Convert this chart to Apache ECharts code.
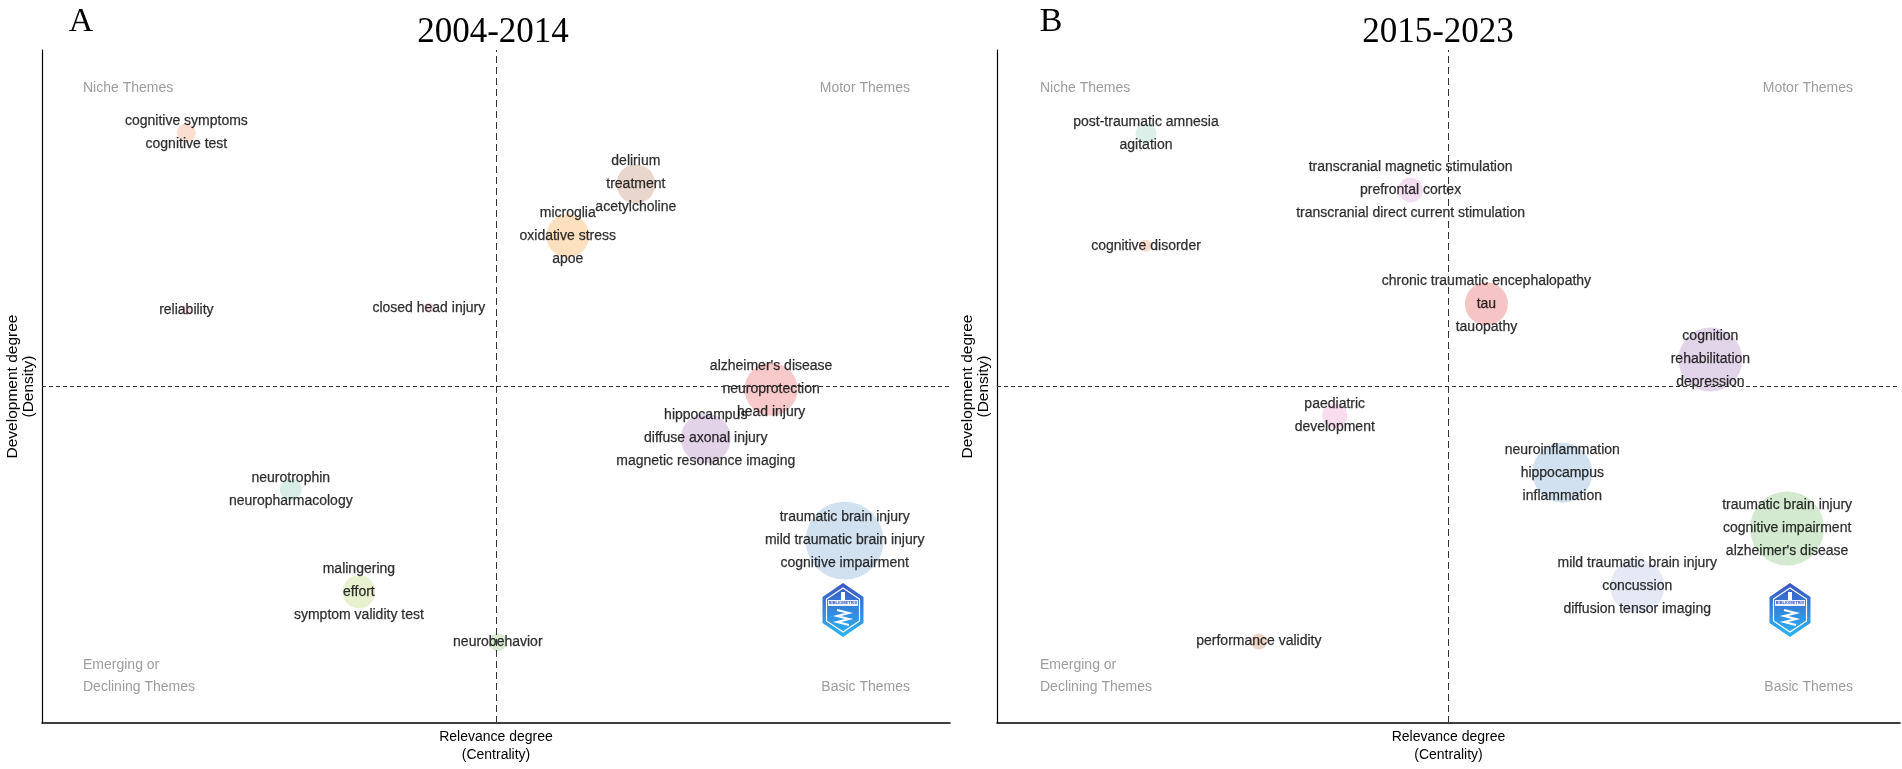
<!DOCTYPE html>
<html><head><meta charset="utf-8">
<script src="https://cdn.jsdelivr.net/npm/echarts@6/dist/echarts.min.js"></script>
<style>html,body{margin:0;padding:0;background:#fff}#c{width:1902px;height:769px}</style>
</head><body><div id="c"></div>
<script>
// ---------- Panel A : 2004-2014 ----------
const labelsA = [
  ["cognitive symptoms", "cognitive test"],
  ["reliability"],
  ["closed head injury"],
  ["delirium", "treatment", "acetylcholine"],
  ["microglia", "oxidative stress", "apoe"],
  ["alzheimer's disease", "neuroprotection", "head injury"],
  ["hippocampus", "diffuse axonal injury", "magnetic resonance imaging"],
  ["neurotrophin", "neuropharmacology"],
  ["traumatic brain injury", "mild traumatic brain injury", "cognitive impairment"],
  ["malingering", "effort", "symptom validity test"],
  ["neurobehavior"]
];
const centralityA = [15.9, 15.9, 42.6, 65.4, 57.9, 80.3, 73.1, 27.4, 88.4, 34.9, 50.2];
const densityA    = [87.7, 61.4, 61.7, 80.1, 72.4, 49.6, 42.3, 34.7, 27.1, 19.5, 12.0];
const freqA       = [45, 13, 13, 190, 231, 351, 312, 60, 760, 136, 40];

// ---------- Panel B : 2015-2023 ----------
const labelsB = [
  ["post-traumatic amnesia", "agitation"],
  ["transcranial magnetic stimulation", "prefrontal cortex", "transcranial direct current stimulation"],
  ["cognitive disorder"],
  ["chronic traumatic encephalopathy", "tau", "tauopathy"],
  ["cognition", "rehabilitation", "depression"],
  ["paediatric", "development"],
  ["neuroinflammation", "hippocampus", "inflammation"],
  ["traumatic brain injury", "cognitive impairment", "alzheimer's disease"],
  ["mild traumatic brain injury", "concussion", "diffusion tensor imaging"],
  ["performance validity"]
];
const centralityB = [16.5, 45.8, 16.5, 54.2, 79.0, 37.4, 62.6, 87.5, 70.9, 29.0];
const densityB    = [87.6, 79.2, 70.9, 62.3, 54.0, 45.7, 37.2, 28.9, 20.3, 12.1];
const freqB       = [55, 78, 18, 231, 512, 78, 450, 684, 365, 32];

const titles = ["2004-2014", "2015-2023"];
const panelLetters = ["A", "B"];
const quadrantNames = ["Niche Themes", "Motor Themes", "Emerging or", "Declining Themes", "Basic Themes"];
const meanCentrality = 50, meanDensity = 50;

// ---------- styles ----------
const colorsA = ["#f9d6c6", "#f8d5e6", "#f6d2e3", "#e4ccbf", "#fcd8b0", "#f5bcbe", "#dcc8e2", "#cfe9e2", "#c7d9eb", "#e4efc4", "#cfe7c7"];
const colorsB = ["#d3ebe2", "#efd6ec", "#f9d4c3", "#f4b5b5", "#dccbe4", "#f8d3ea", "#c7d9eb", "#c8e5c4", "#dde3f2", "#e7cbbb"];
const sansFont = "'Liberation Sans', Arial, sans-serif";
const serifFont = "'Liberation Serif', 'Times New Roman', serif";

function diameter(f) { return 2 * Math.sqrt(2 * f); }
function buildData(cx, dy, fr, lb, cols) {
  return cx.map((x, i) => ({ value: [x, dy[i], fr[i]], labels: lb[i], itemStyle: { color: cols[i] } }));
}

function axisPair(gi) {
  return {
    x: {
      gridIndex: gi, type: 'value', min: 0, max: 100,
      axisLine: { show: true, onZero: false, lineStyle: { color: '#000', width: 1.6 } },
      axisTick: { show: false }, axisLabel: { show: false }, splitLine: { show: false },
      name: 'Relevance degree\n(Centrality)', nameLocation: 'middle', nameGap: 5,
      nameTextStyle: { fontFamily: sansFont, fontSize: 14, lineHeight: 18, color: '#000' }
    },
    y: {
      gridIndex: gi, type: 'value', min: 0, max: 100,
      axisLine: { show: true, onZero: false, lineStyle: { color: '#000', width: 1.2 } },
      axisTick: { show: false }, axisLabel: { show: false }, splitLine: { show: false },
      name: 'Development degree\n(Density)', nameLocation: 'middle', nameGap: 5, nameRotate: 90,
      nameTextStyle: { fontFamily: sansFont, fontSize: 15.5, lineHeight: 16, color: '#000' }
    }
  };
}
const axA = axisPair(0), axB = axisPair(1);

function scatterSeries(idx, data) {
  return {
    type: 'scatter', xAxisIndex: idx, yAxisIndex: idx, data: data,
    symbol: 'circle',
    symbolSize: v => diameter(v[2]),
    silent: true,
    emphasis: { disabled: true },
    label: {
      show: true, position: 'inside',
      formatter: p => p.data.labels.join('\n'),
      color: '#000', fontFamily: sansFont, fontSize: 14, lineHeight: 23,
      textBorderColor: '#000', textBorderWidth: 0.25
    },
    markLine: {
      silent: true, symbol: 'none', animation: false,
      label: { show: false },
      data: [
        { xAxis: meanCentrality, lineStyle: { type: [7, 4], color: '#333', width: 1 } },
        { yAxis: meanDensity, lineStyle: { type: [4, 3], color: '#333', width: 1 } }
      ]
    }
  };
}

// graphic decorations
function qText(text, x, y, align) {
  return { type: 'text', x: x, y: y, silent: true,
    style: { text: text, fill: '#9c9c9c', font: '14px ' + sansFont, align: align, textAlign: align, verticalAlign: 'middle', textVerticalAlign: 'middle' } };
}
function logo(cx, cy) {
  const w = 20.5, h = 27, s = 13;
  return {
    type: 'group', x: cx, y: cy, silent: true,
    children: [
      { type: 'polygon', shape: { points: [[0, -h], [w, -s], [w, s], [0, h], [-w, s], [-w, -s]] },
        style: { fill: new echarts.graphic.LinearGradient(0, 0, 0, 1, [{ offset: 0, color: '#3c55c4' }, { offset: 1, color: '#2bb6f4' }]) } },
      { type: 'polygon', shape: { points: [[0, -h + 5], [w - 4, -s + 2], [w - 4, s - 2], [0, h - 5], [-w + 4, s - 2], [-w + 4, -s + 2]] },
        style: { fill: 'none', stroke: '#ffffff', lineWidth: 1.2 } },
      { type: 'rect', shape: { x: -15, y: -10, width: 30, height: 6 }, style: { fill: '#ffffff', opacity: 0.9 } },
      { type: 'text', x: 0, y: -7, style: { text: 'BIBLIOMETRIX', fill: '#3c55c4', font: 'bold 4px ' + sansFont, align: 'center', textAlign: 'center', verticalAlign: 'middle', textVerticalAlign: 'middle' } },
      { type: 'polyline', shape: { points: [[-6, 0], [6, 3], [-6, 6], [6, 9], [-6, 12], [6, 15]] }, style: { stroke: '#ffffff', lineWidth: 2, fill: 'none' } },
      { type: 'rect', shape: { x: -2, y: -18, width: 4, height: 8 }, style: { fill: '#ffffff' } }
    ]
  };
}

const graphics = [
  { type: 'text', x: 81, y: 22, silent: true, style: { text: panelLetters[0], fill: '#000', font: '34px ' + serifFont, align: 'center', textAlign: 'center', verticalAlign: 'middle', textVerticalAlign: 'middle' } },
  { type: 'text', x: 1051, y: 22, silent: true, style: { text: panelLetters[1], fill: '#000', font: '34px ' + serifFont, align: 'center', textAlign: 'center', verticalAlign: 'middle', textVerticalAlign: 'middle' } },
  { type: 'text', x: 493, y: 33, silent: true, style: { text: titles[0], fill: '#000', font: '35px ' + serifFont, align: 'center', textAlign: 'center', verticalAlign: 'middle', textVerticalAlign: 'middle' } },
  { type: 'text', x: 1438, y: 33, silent: true, style: { text: titles[1], fill: '#000', font: '35px ' + serifFont, align: 'center', textAlign: 'center', verticalAlign: 'middle', textVerticalAlign: 'middle' } },
  qText(quadrantNames[0], 83, 88, 'left'),
  qText(quadrantNames[1], 910, 88, 'right'),
  qText(quadrantNames[2], 83, 665, 'left'),
  qText(quadrantNames[3], 83, 687, 'left'),
  qText(quadrantNames[4], 910, 687, 'right'),
  qText(quadrantNames[0], 1040, 88, 'left'),
  qText(quadrantNames[1], 1853, 88, 'right'),
  qText(quadrantNames[2], 1040, 665, 'left'),
  qText(quadrantNames[3], 1040, 687, 'left'),
  qText(quadrantNames[4], 1853, 687, 'right'),
  logo(843, 610),
  logo(1790, 610)
];

const chart = echarts.init(document.getElementById('c'));
chart.setOption({
  animation: false,
  backgroundColor: '#ffffff',
  grid: [
    { left: 42, right: 952, top: 50, bottom: 46 },
    { left: 997, right: 2, top: 50, bottom: 46 }
  ],
  xAxis: [axA.x, axB.x],
  yAxis: [axA.y, axB.y],
  series: [
    scatterSeries(0, buildData(centralityA, densityA, freqA, labelsA, colorsA)),
    scatterSeries(1, buildData(centralityB, densityB, freqB, labelsB, colorsB))
  ],
  graphic: graphics
});
</script>
</body></html>
